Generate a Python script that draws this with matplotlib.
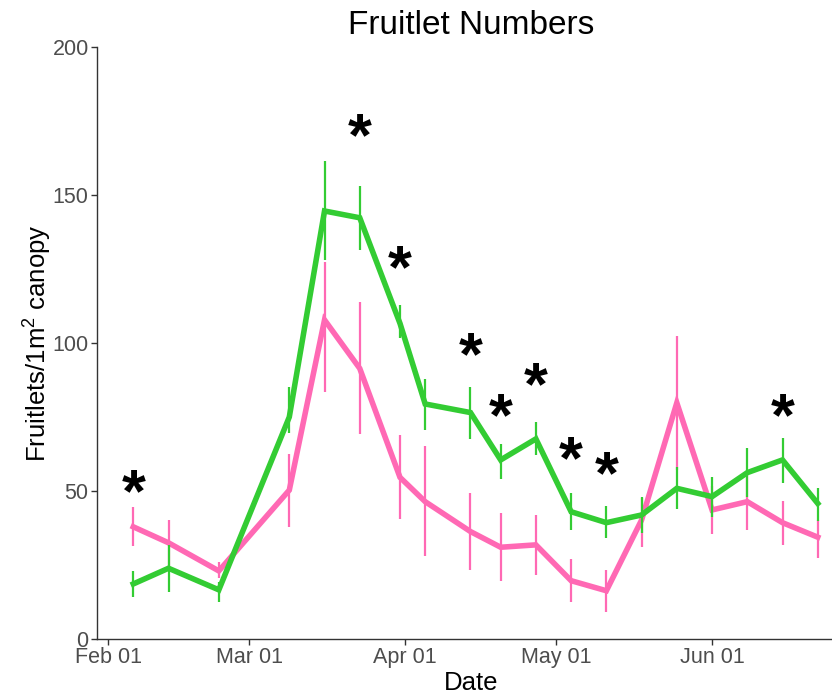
import datetime as dt
import matplotlib
matplotlib.use("Agg")
import matplotlib.pyplot as plt
import matplotlib.dates as mdates
import matplotlib.transforms as mtransforms

plt.rcParams['font.family'] = ['Liberation Sans', 'DejaVu Sans']
plt.rcParams['mathtext.fontset'] = 'custom'
plt.rcParams['mathtext.rm'] = 'Liberation Sans'
plt.rcParams['mathtext.it'] = 'Liberation Sans:italic'

# sampling dates
dates = [dt.datetime(2019, m, d) for m, d in [
    (2, 6), (2, 13), (2, 23), (3, 9), (3, 16), (3, 23), (3, 31), (4, 5),
    (4, 14), (4, 20), (4, 27), (5, 4), (5, 11), (5, 18), (5, 25), (6, 1),
    (6, 8), (6, 15), (6, 22)]]

green_mean = [18.6, 23.9, 16.6, 75.0, 144.6, 142.3, 106.6, 79.4, 76.5, 60.5,
              67.6, 43.0, 39.3, 41.9, 50.9, 48.1, 56.2, 60.5, 45.8]
green_lo = [14.3, 16.0, 12.6, 69.6, 128.0, 131.4, 101.6, 70.6, 67.5, 54.0,
            62.2, 36.8, 34.0, 35.7, 44.0, 41.3, 48.1, 52.6, 40.0]
green_hi = [23.0, 31.8, 19.4, 85.0, 161.5, 153.0, 113.0, 88.0, 85.0, 66.0,
            73.4, 49.2, 45.0, 48.0, 58.2, 54.8, 64.4, 67.8, 51.0]

pink_mean = [37.9, 32.5, 23.0, 50.3, 107.8, 91.4, 54.6, 46.4, 36.3, 31.0,
             31.8, 19.7, 16.3, 40.2, 79.8, 43.6, 46.4, 39.3, 34.4]
pink_lo = [31.5, 24.8, 20.5, 38.0, 83.5, 69.3, 40.4, 28.0, 23.3, 19.7,
           21.6, 12.6, 9.2, 31.2, 57.0, 35.5, 36.8, 31.8, 27.3]
pink_hi = [44.7, 40.2, 26.0, 62.5, 127.5, 114.0, 69.0, 65.2, 49.2, 42.5,
           41.9, 26.9, 23.3, 47.5, 102.4, 51.7, 56.0, 46.7, 40.2]

# significance marks (index into dates, label height)
sig_idx = [0, 5, 6, 8, 9, 10, 11, 12, 17]
sig_y = [53.0, 173.0, 128.6, 99.3, 78.5, 88.9, 63.9, 58.8, 78.5]

GREEN = '#33CC33'
PINK = '#FF69B4'

fig = plt.figure(figsize=(8.32, 7.0), dpi=100)
ax = fig.add_axes([97 / 832, 61 / 700, 748 / 832, 592 / 700])

ax.plot(dates, pink_mean, color=PINK, lw=4.0, solid_joinstyle='miter', zorder=2)
ax.vlines(dates, pink_lo, pink_hi, color=PINK, lw=1.6, zorder=2)
ax.plot(dates, green_mean, color=GREEN, lw=4.0, solid_joinstyle='miter', zorder=3)
ax.vlines(dates, green_lo, green_hi, color=GREEN, lw=1.6, zorder=3)

# asterisks: shift baseline down so the glyph sits centred on its y value
fs_star = 44
star_tr = mtransforms.offset_copy(ax.transData, fig=fig, y=-0.47 * fs_star, units='points')
for i, y in zip(sig_idx, sig_y):
    ax.text(dates[i], y, '*', fontsize=fs_star, fontweight='bold', color='black',
            ha='center', va='baseline', transform=star_tr, zorder=4)

ax.set_xlim(dt.datetime(2019, 1, 29, 19), dt.datetime(2019, 6, 27, 10))
ax.set_ylim(0, 200)
ax.set_yticks([0, 50, 100, 150, 200])
ax.xaxis.set_major_locator(mdates.MonthLocator())
ax.xaxis.set_major_formatter(mdates.DateFormatter('%b %d'))

for s in ['top', 'right']:
    ax.spines[s].set_visible(False)
for s in ['left', 'bottom']:
    ax.spines[s].set_color('#333333')
    ax.spines[s].set_linewidth(1.0)
ax.tick_params(length=4.5, width=1.0, color='#333333', labelcolor='#4D4D4D',
               labelsize=15.5, pad=1.5)

ax.set_title('Fruitlet Numbers', fontsize=24, pad=9)
ax.set_xlabel('Date', fontsize=18.5, labelpad=2)
ax.set_ylabel(r'Fruitlets/1m$^{2}$ canopy', fontsize=18.5)
ax.yaxis.set_label_coords(-0.058, 0.5)

fig.savefig('out.png', dpi=100)
